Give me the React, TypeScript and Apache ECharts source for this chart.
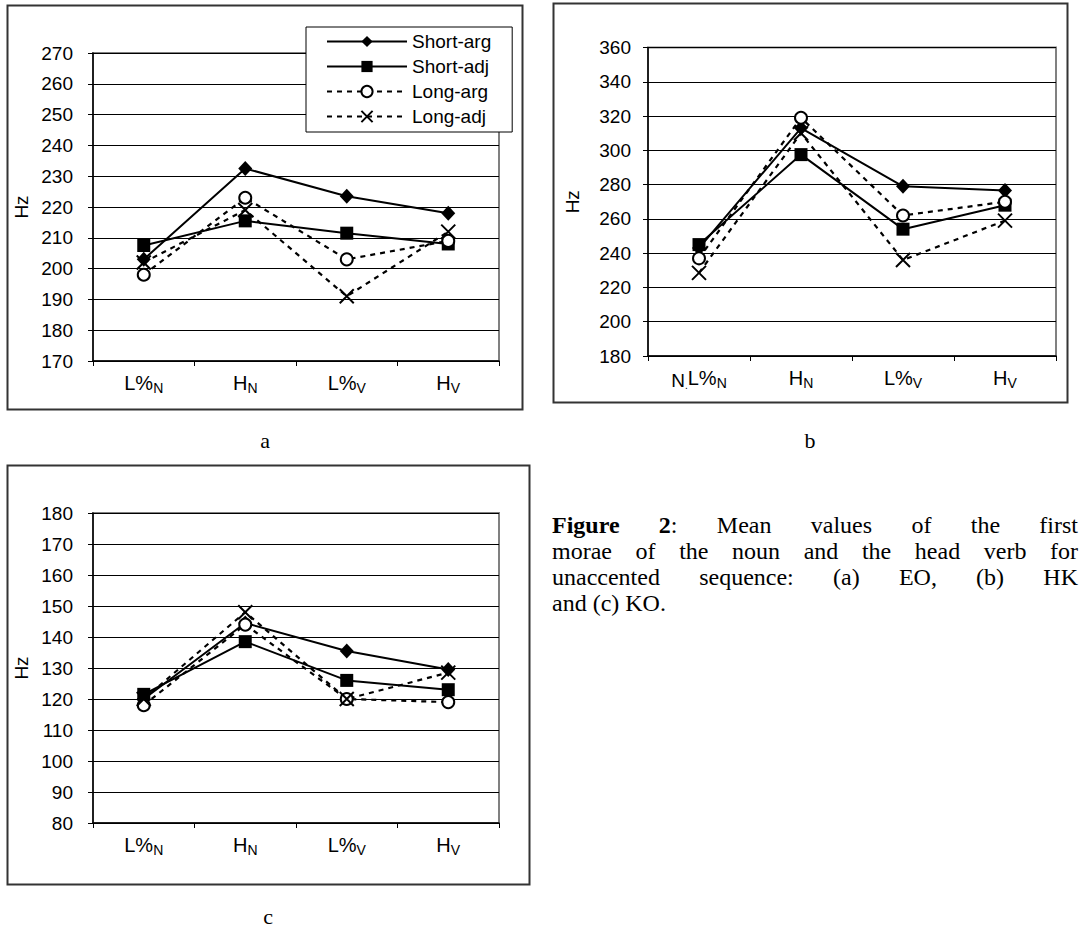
import React, { useEffect, useRef } from 'react';
import * as echarts from 'echarts';

const categories = ['L%N', 'HN', 'L%V', 'HV'];
const seriesNames = ['Short-arg', 'Short-adj', 'Long-arg', 'Long-adj'];

// chart a (EO)
const shortArgA = [203, 232.5, 223.5, 218];
const shortAdjA = [207.5, 215.5, 211.5, 208];
const longArgA = [198, 223, 203, 209];
const longAdjA = [202, 219, 191, 212];
// chart b (HK)
const shortArgB = [243, 313, 279, 276.5];
const shortAdjB = [245, 297.5, 254, 268];
const longArgB = [237, 319, 262, 270];
const longAdjB = [228.5, 310, 236, 259];
// chart c (KO)
const shortArgC = [120, 144.5, 135.5, 129.5];
const shortAdjC = [121.5, 138.5, 126, 123];
const longArgC = [118, 144, 120, 119];
const longAdjC = [120, 148, 120, 128.5];

// y axis [min, max, interval]
const yRangeA = [170, 270, 10];
const yRangeB = [180, 360, 20];
const yRangeC = [80, 180, 10];

const captionLines = [
  [[{ t: 'Figure', b: true }], [{ t: '2', b: true }, { t: ':' }], [{ t: 'Mean' }], [{ t: 'values' }], [{ t: 'of' }], [{ t: 'the' }], [{ t: 'first' }]],
  [[{ t: 'morae' }], [{ t: 'of' }], [{ t: 'the' }], [{ t: 'noun' }], [{ t: 'and' }], [{ t: 'the' }], [{ t: 'head' }], [{ t: 'verb' }], [{ t: 'for' }]],
  [[{ t: 'unaccented' }], [{ t: 'sequence:' }], [{ t: '(a)' }], [{ t: 'EO,' }], [{ t: '(b)' }], [{ t: 'HK' }]],
  [[{ t: 'and' }], [{ t: '(c)' }], [{ t: 'KO.' }]],
];

const SANS = '"Liberation Sans", Arial, sans-serif';
const SERIF = '"Liberation Serif", "Times New Roman", serif';

const labelRich = {
  m: { fontSize: 20, fontFamily: SANS, color: '#000', lineHeight: 24, verticalAlign: 'middle' },
  s: { fontSize: 14, fontFamily: SANS, color: '#000', lineHeight: 14, verticalAlign: 'bottom' },
  n: { fontSize: 19, fontFamily: SANS, color: '#000', lineHeight: 19, verticalAlign: 'bottom' },
  d: { fontSize: 10, fontFamily: SANS, color: '#000', lineHeight: 12, verticalAlign: 'bottom' },
};

function catLabel(prefixN: boolean) {
  return (v: string, i: number) => {
    const main = v.slice(0, v.length - 1);
    const sub = v.slice(v.length - 1);
    const pre = prefixN && i === 0 ? '{n|N}{d|.}' : '';
    return pre + '{m|' + main + '}{s|' + sub + '}';
  };
}

const seriesStyles: any[] = [
  { symbol: 'diamond', symbolSize: [14, 15], lineStyle: { color: '#000', width: 2, type: 'solid' }, itemStyle: { color: '#000' } },
  { symbol: 'rect', symbolSize: 13, lineStyle: { color: '#000', width: 2, type: 'solid' }, itemStyle: { color: '#000' } },
  { symbol: 'emptyCircle', symbolSize: 12, lineStyle: { color: '#000', width: 2.2, type: [5, 5] }, itemStyle: { color: '#000', borderColor: '#000', borderWidth: 2 } },
  { symbol: 'path://M0,0L10,10M10,0L0,10', symbolSize: 14, lineStyle: { color: '#000', width: 2.2, type: [5, 5] }, itemStyle: { color: '#000', borderColor: '#000', borderWidth: 2 } },
];

function measure(text: string, bold: boolean, size: number) {
  const c = document.createElement('canvas').getContext('2d')!;
  c.font = (bold ? 'bold ' : '') + size + 'px "Liberation Serif"';
  return c.measureText(text).width;
}

function buildCaption() {
  const size = 24;
  const L = 552;
  const R = 1078;
  const ys = [525, 551, 577, 603];
  const els: any[] = [];
  captionLines.forEach((words, li) => {
    const widths = words.map((w) => w.reduce((s, seg: any) => s + measure(seg.t, !!seg.b, size), 0));
    const total = widths.reduce((a, b) => a + b, 0);
    const justify = li < captionLines.length - 1;
    const gap = justify ? (R - L - total) / (words.length - 1) : measure(' ', false, size);
    let x = L;
    words.forEach((w, wi) => {
      let sx = x;
      w.forEach((seg: any) => {
        els.push({
          type: 'text',
          x: sx,
          y: ys[li],
          style: {
            text: seg.t,
            fontSize: size,
            fontFamily: SERIF,
            fontWeight: seg.b ? 'bold' : 'normal',
            fill: '#000',
            align: 'left',
            verticalAlign: 'middle',
          },
        });
        sx += measure(seg.t, !!seg.b, size);
      });
      x += widths[wi] + gap;
    });
  });
  return els;
}

export default function App() {
  const ref = useRef<HTMLDivElement>(null);
  useEffect(() => {
    if (!ref.current) return;
    const chart = echarts.init(ref.current, null, { renderer: 'svg' });

    const grids = [
      { left: 93, top: 53, width: 406, height: 308 },
      { left: 648, top: 47.5, width: 408, height: 308.5 },
      { left: 93, top: 513, width: 406, height: 310 },
    ];
    const ranges = [yRangeA, yRangeB, yRangeC];
    const dataSets = [
      [shortArgA, shortAdjA, longArgA, longAdjA],
      [shortArgB, shortAdjB, longArgB, longAdjB],
      [shortArgC, shortAdjC, longArgC, longAdjC],
    ];
    const labelMargins = [20, 17, 20];
    const nameGaps = [62, 66, 62];

    const xAxis = grids.map((_, i) => ({
      type: 'category',
      gridIndex: i,
      data: categories,
      boundaryGap: true,
      axisLine: { lineStyle: { color: '#000', width: 1.5 } },
      axisTick: { show: true, length: 5, lineStyle: { color: '#000' } },
      axisLabel: { formatter: catLabel(i === 1), rich: labelRich, margin: 10, interval: 0 },
      splitLine: { show: false },
    }));

    const yAxis = grids.map((_, i) => ({
      type: 'value',
      gridIndex: i,
      min: ranges[i][0],
      max: ranges[i][1],
      interval: ranges[i][2],
      name: 'Hz',
      nameLocation: 'middle',
      nameGap: nameGaps[i],
      nameRotate: 90,
      nameTextStyle: { fontSize: 19, color: '#000', fontFamily: SANS },
      axisLine: { show: true, lineStyle: { color: '#000', width: 1.5 } },
      axisTick: { show: true, length: 5, lineStyle: { color: '#000' } },
      axisLabel: { fontSize: 19, color: '#000', fontFamily: SANS, margin: labelMargins[i] },
      splitLine: { show: true, lineStyle: { color: '#000', width: 1 } },
    }));

    const series: any[] = [];
    dataSets.forEach((set, gi) => {
      set.forEach((vals, si) => {
        series.push({
          type: 'line',
          name: seriesNames[si],
          xAxisIndex: gi,
          yAxisIndex: gi,
          data: vals,
          ...seriesStyles[si],
        });
      });
    });

    const frames = [
      { x: 7.5, y: 5.5, w: 515, h: 404 },
      { x: 553.5, y: 3.5, w: 514, h: 399 },
      { x: 7.5, y: 465.5, w: 522, h: 419 },
    ].map((f) => ({
      type: 'rect',
      shape: { x: f.x, y: f.y, width: f.w, height: f.h },
      style: { fill: 'none', stroke: '#333', lineWidth: 2 },
      z: 0,
    }));

    const letters = [
      { t: 'a', x: 265, y: 440 },
      { t: 'b', x: 810, y: 440 },
      { t: 'c', x: 268, y: 916 },
    ].map((l) => ({
      type: 'text',
      x: l.x,
      y: l.y,
      style: { text: l.t, fontSize: 22, fontFamily: SERIF, fill: '#000', align: 'center', verticalAlign: 'middle' },
    }));

    chart.setOption({
      animation: false,
      backgroundColor: '#fff',
      grid: grids.map((g) => ({ ...g, show: true, borderColor: '#808080', borderWidth: 2, backgroundColor: 'transparent' })),
      xAxis,
      yAxis,
      legend: {
        show: true,
        orient: 'vertical',
        left: 306,
        top: 27,
        data: seriesNames,
        selectedMode: false,
        itemWidth: 80,
        itemHeight: 14,
        itemGap: 6,
        backgroundColor: '#fff',
        borderColor: '#000',
        borderWidth: 1,
        padding: [5, 21, 6, 20],
        textStyle: { fontSize: 19, color: '#000', fontFamily: SANS, lineHeight: 19 },
      },
      series,
      graphic: [...frames, ...letters, ...buildCaption()],
    });

    return () => chart.dispose();
  }, []);

  return <div ref={ref} style={{ position: 'absolute', left: 0, top: 0, width: 1080, height: 928 }} />;
}
